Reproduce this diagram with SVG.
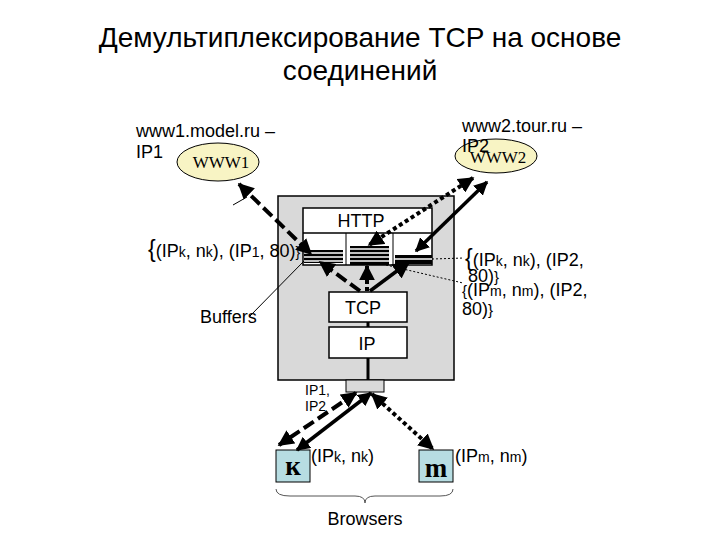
<svg xmlns="http://www.w3.org/2000/svg" width="720" height="540" viewBox="0 0 720 540">
<defs>
<marker id="ah" viewBox="0 0 10 10" refX="9" refY="5" markerWidth="4" markerHeight="4" orient="auto-start-reverse"><path d="M0,0 L10,5 L0,10 z" fill="#000"/></marker>
<marker id="ahs" viewBox="0 0 10 10" refX="9" refY="5" markerWidth="5" markerHeight="5" orient="auto-start-reverse"><path d="M0,0 L10,5 L0,10 z" fill="#000"/></marker>
<style>
text{font-family:"Liberation Sans",Arial,sans-serif;fill:#000}
.t{font-size:28px}
.l{font-size:18px}
.b{font-size:18px}
.dash{stroke:#000;stroke-width:4;fill:none;stroke-dasharray:12 5}
.dot{stroke:#000;stroke-width:4;fill:none;stroke-dasharray:4 3}
.sol{stroke:#000;stroke-width:3.5;fill:none}
.thin{stroke:#000;stroke-width:1;fill:none}
.tdot{stroke:#000;stroke-width:1;fill:none;stroke-dasharray:2 2}
.box{fill:#fff;stroke:#000;stroke-width:1.5}
.ser{font-family:"Liberation Serif","Times New Roman",serif;font-size:17px}
.bser{font-family:"Liberation Serif","Times New Roman",serif;font-size:27px;font-weight:bold}
.br{fill:#b7dde2;stroke:#000;stroke-width:1}
</style>
</defs>
<rect width="720" height="540" fill="#fff"/>
<g id="title">
<text class="t" x="360" y="47" text-anchor="middle">Демультиплексирование TCP на основе</text>
<text class="t" x="360" y="80" text-anchor="middle">соединений</text>
</g>
<g id="host">
<rect x="278" y="196" width="176" height="184" fill="#d9d9d9" stroke="#000" stroke-width="1.5"/>
<rect x="346" y="380" width="38" height="12" fill="#d9d9d9" stroke="#000" stroke-width="1"/>
</g>
<g id="http">
<rect class="box" x="303" y="208" width="129" height="57"/>
<line x1="303" y1="233" x2="432" y2="233" stroke="#000" stroke-width="1.5"/>
<line x1="346" y1="233" x2="346" y2="265" stroke="#000" stroke-width="1"/>
<line x1="393" y1="233" x2="393" y2="265" stroke="#000" stroke-width="1"/>
<text class="b" x="361" y="227" text-anchor="middle">HTTP</text>
</g>
<g id="buffer1">
<rect x="304" y="250" width="39" height="13" fill="#000"/>
<line x1="304" y1="253" x2="343" y2="253" stroke="#fff" stroke-width="1.5"/>
<line x1="304" y1="257" x2="343" y2="257" stroke="#fff" stroke-width="1.5"/>
<line x1="304" y1="261" x2="343" y2="261" stroke="#fff" stroke-width="1.5"/>
</g>
<g id="buffer2">
<rect x="350" y="246" width="39" height="19" fill="#000"/>
<line x1="350" y1="249" x2="389" y2="249" stroke="#fff" stroke-width="1.5"/>
<line x1="350" y1="253" x2="389" y2="253" stroke="#fff" stroke-width="1.5"/>
<line x1="350" y1="257" x2="389" y2="257" stroke="#fff" stroke-width="1.5"/>
<line x1="350" y1="261" x2="389" y2="261" stroke="#fff" stroke-width="1.5"/>
</g>
<g id="buffer3">
<rect x="395" y="255" width="37" height="9" fill="#000"/>
<line x1="395" y1="259" x2="432" y2="259" stroke="#fff" stroke-width="1.5"/>
</g>
<g id="tcp">
<rect class="box" x="329" y="292" width="78" height="30"/>
<text class="b" x="363" y="314" text-anchor="middle">TCP</text>
</g>
<g id="ip">
<rect class="box" x="329" y="327" width="78" height="31"/>
<text class="b" x="367" y="350" text-anchor="middle">IP</text>
</g>
<g id="www1">
<ellipse cx="218" cy="162" rx="41" ry="19" fill="#f8f4c4" stroke="#000" stroke-width="1"/>
<text class="ser" x="221" y="168" text-anchor="middle">WWW1</text>
<text class="l" x="136" y="137">www1.model.ru –</text>
<text class="l" x="136" y="158">IP1</text>
</g>
<g id="www2">
<ellipse cx="496" cy="156" rx="41" ry="17" fill="#f8f4c4" stroke="#000" stroke-width="1"/>
<text class="ser" x="498" y="163" text-anchor="middle">WWW2</text>
<text class="l" x="462" y="132">www2.tour.ru –</text>
<text class="l" x="462" y="152">IP2</text>
</g>
<g id="browserK">
<rect class="br" x="276" y="450" width="34" height="32"/>
<text class="bser" x="293" y="475" text-anchor="middle">к</text>
<text class="b" x="311" y="462">(IP<tspan font-size="14">k</tspan>, n<tspan font-size="14">k</tspan>)</text>
</g>
<g id="browserM">
<rect class="br" x="419" y="450" width="34" height="32"/>
<text class="bser" x="436" y="477" text-anchor="middle">m</text>
<text class="b" x="455" y="462">(IP<tspan font-size="14">m</tspan>, n<tspan font-size="14">m</tspan>)</text>
</g>
<g id="labels">
<text class="b" x="148" y="257"><tspan font-size="23">{</tspan>(IP<tspan font-size="14">k</tspan>, n<tspan font-size="14">k</tspan>), (IP<tspan font-size="14">1</tspan>, 80)<tspan font-size="14">}</tspan></text>
<text class="b" x="465" y="266"><tspan font-size="23">{</tspan>(IP<tspan font-size="14">k</tspan>, n<tspan font-size="14">k</tspan>), (IP2,</text>
<text class="b" x="468" y="282">80)<tspan font-size="15">}</tspan></text>
<text class="b" x="462" y="296"><tspan font-size="15">{</tspan>(IP<tspan font-size="14">m</tspan>, n<tspan font-size="14">m</tspan>), (IP2,</text>
<text class="b" x="462" y="315">80)<tspan font-size="15">}</tspan></text>
<text class="l" x="200" y="323">Buffers</text>
<text x="305" y="395" font-size="14" fill="#333">IP1,</text>
<text x="305" y="411" font-size="14" fill="#333">IP2</text>
<text class="l" x="365" y="525" text-anchor="middle">Browsers</text>
</g>
<g id="connectors">
<line class="dash" x1="239" y1="184" x2="311" y2="254" marker-start="url(#ah)" marker-end="url(#ah)"/>
<line class="thin" x1="233" y1="205" x2="247" y2="197"/>
<line class="sol" x1="487" y1="182" x2="416" y2="251" marker-start="url(#ah)" marker-end="url(#ah)"/>
<line class="dot" x1="473" y1="178" x2="369" y2="245" marker-start="url(#ah)" marker-end="url(#ah)"/>
<line class="dash" x1="360" y1="291" x2="320" y2="262" marker-end="url(#ah)"/>
<line class="dot" x1="367" y1="291" x2="367" y2="266" marker-end="url(#ah)"/>
<line class="sol" x1="370" y1="291" x2="409" y2="262" stroke-width="2" marker-end="url(#ahs)"/>
<line x1="368" y1="322" x2="368" y2="327" stroke="#000" stroke-width="3"/>
<line x1="368" y1="358" x2="368" y2="380" stroke="#000" stroke-width="3"/>
<line class="thin" x1="304" y1="261" x2="250" y2="316"/>
<line class="tdot" x1="432" y1="259" x2="464" y2="258"/>
<line class="tdot" x1="386" y1="265" x2="463" y2="283"/>
<line class="dash" x1="356" y1="393" x2="279" y2="445" marker-start="url(#ah)" marker-end="url(#ah)"/>
<line class="sol" x1="371" y1="393" x2="297" y2="450" marker-start="url(#ah)" marker-end="url(#ah)"/>
<line class="dot" x1="372" y1="394" x2="433" y2="449" marker-start="url(#ah)" marker-end="url(#ah)"/>
<path d="M276,489 Q276,496 290,496 L355,496 Q365,496 365,503 Q365,496 375,496 L440,496 Q453,496 453,489" stroke="#555" stroke-width="1" fill="none"/>
</g>
</svg>
